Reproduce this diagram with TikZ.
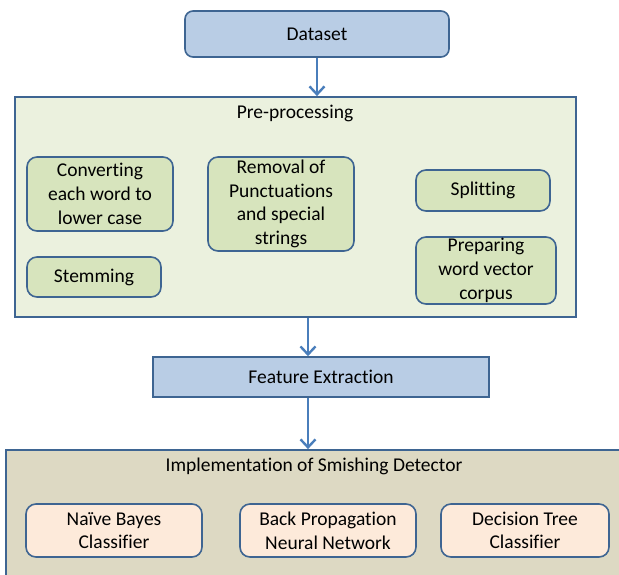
\documentclass[tikz,border=0pt]{standalone}
\usepackage{fontspec}
\setmainfont[Ligatures={NoCommon}]{Carlito}
\usepackage{xcolor}
\usetikzlibrary{
    arrows.meta,
    petri,
    positioning,
}
\definecolor{stageFill}{HTML}{B9CDE5}
\definecolor{frameBlue}{HTML}{3E6592}
\definecolor{arrowBlue}{HTML}{4A7EBB}
\definecolor{preFill}{HTML}{EBF1DE}
\definecolor{stepFill}{HTML}{D7E4BD}
\definecolor{implFill}{HTML}{DDD9C3}
\definecolor{algoFill}{HTML}{FDEADA}

\begin{document}
\begin{tikzpicture}[x=1pt,y=-1pt,>={Straight Barb[length=8pt,width=15pt]}]

    \tikzstyle{commonNode}=[font=\fontsize{19.5}{23.7}\selectfont, align=center, line width=1.6pt, draw=frameBlue, inner sep=0pt]
    \tikzstyle{stage}=[commonNode, rectangle, fill=stageFill]
    \tikzstyle{container}=[commonNode, rectangle, line width=1.8pt]
    \tikzstyle{stepBox}=[commonNode, rounded corners=10pt, fill=stepFill]
    \tikzstyle{algoBox}=[commonNode, rounded corners=10pt, fill=algoFill]
    \tikzstyle{title}=[font=\fontsize{19.5}{23.7}\selectfont, inner sep=0pt]
    \tikzstyle{flow}=[->, draw=arrowBlue, line width=2.4pt]

    % Frame of the picture
    \useasboundingbox (0,0) rectangle (619,574);

    \begin{scope}
        % Input
        \node at (317,34) [stage, rounded corners=8pt, minimum width=264, minimum height=46] (DS) {Dataset};

        % Pre-processing block
        \node at (295.5,207) [container, fill=preFill, minimum width=561, minimum height=220] (PP) {};
        \node at (295,113) [title] (PPt) {Pre-processing};
        \node at (100,194)   [stepBox, minimum width=146, minimum height=74] (LC)  {Converting\\each word to\\lower case};
        \node at (281,204)   [stepBox, minimum width=146, minimum height=94] (RP)  {Removal of\\Punctuations\\and special\\strings};
        \node at (94,277)    [stepBox, minimum width=134, minimum height=40] (ST)  {Stemming};
        \node at (483,190.5) [stepBox, minimum width=134, minimum height=41] (SP)  {Splitting};
        \node at (486,270.5) [stepBox, minimum width=140, minimum height=67] (WV)  {Preparing\\word vector\\corpus};

        % Feature extraction
        \node at (321,377) [stage, minimum width=336, minimum height=40] (FE) {Feature Extraction};

        % Detector block
        \node at (323,525) [container, fill=implFill, minimum width=634, minimum height=150] (SD) {};
        \node at (314,466) [title] (SDt) {Implementation of Smishing Detector};
        \node at (114,530.5) [algoBox, minimum width=176, minimum height=53] (NB) {Naïve Bayes\\Classifier};
        \node at (328,530.5) [algoBox, minimum width=176, minimum height=53] (BP) {Back Propagation\\Neural Network};
        \node at (525,530.5) [algoBox, minimum width=168, minimum height=53] (DT) {Decision Tree\\Classifier};
    \end{scope}

    % Flow
    \draw [flow] (DS.south) -- (DS.south |- PP.north);
    \draw [flow] ([xshift=-13]PP.south -| FE.north) -- ([xshift=-13]FE.north);
    \draw [flow] ([xshift=-13]FE.south) -- ([xshift=-13]FE.south |- SD.north);
\end{tikzpicture}
\end{document}
